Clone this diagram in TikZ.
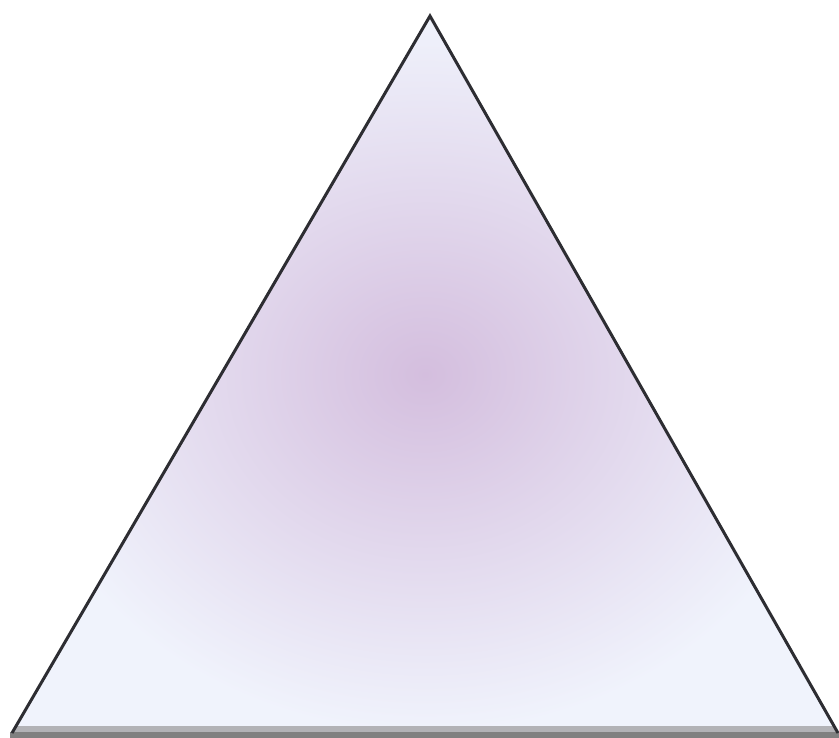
\documentclass[tikz,border=0pt]{standalone}
\definecolor{tricenter}{RGB}{212,190,222}
\definecolor{triedge}{RGB}{240,243,252}
\definecolor{triline}{RGB}{45,45,50}
\definecolor{basedark}{RGB}{128,128,128}
\definecolor{baselight}{RGB}{178,178,182}
\tikzset{
  sideline/.style={draw=triline, line width=3pt, line join=miter},
}
\begin{document}
\begin{tikzpicture}[x=1pt,y=-1pt]
\useasboundingbox (0,0) rectangle (839,738);
\coordinate (top) at (430,16);
\coordinate (bl) at (12,733);
\coordinate (br) at (838,733);
\shade[inner color=tricenter, outer color=triedge, shading=radial] (top) -- (bl) -- (br) -- cycle;
\fill[baselight] (14,726) rectangle (836,732);
\fill[basedark] (10,732) rectangle (839,738);
\draw[sideline] (bl) -- (top) -- (br);
\end{tikzpicture}
\end{document}
